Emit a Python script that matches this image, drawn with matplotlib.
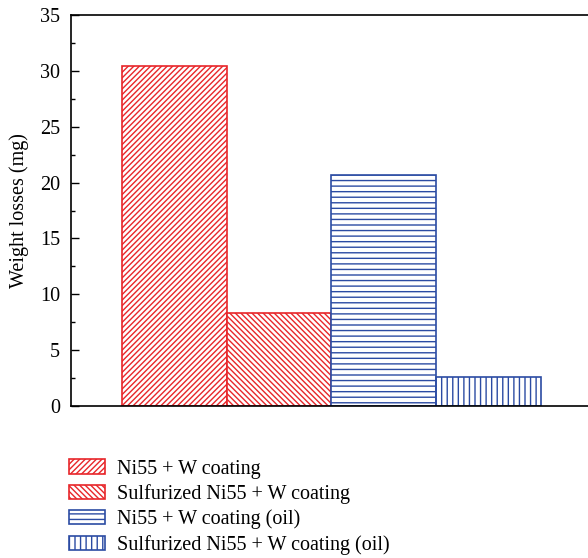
import matplotlib.pyplot as plt

plt.rcParams["font.family"] = ["Liberation Serif", "DejaVu Serif"]
plt.rcParams["hatch.linewidth"] = 1.0

labels = [
    "Ni55 + W coating",
    "Sulfurized Ni55 + W coating",
    "Ni55 + W coating (oil)",
    "Sulfurized Ni55 + W coating (oil)",
]
losses = [30.4, 8.3, 20.7, 2.6]
colors = ["#e8262a", "#e8262a", "#2b4ba3", "#2b4ba3"]
hatches = ["//////", "\\\\\\\\\\\\", "---", "|||"]

fig = plt.figure(figsize=(5.88, 5.58), dpi=100)
ax = fig.add_axes([0.1207, 0.2724, 0.886, 0.7007])

for i in range(len(losses)):
    ax.bar(i, losses[i], width=1.0, facecolor="white", edgecolor=colors[i],
           hatch=hatches[i], linewidth=1.2, label=labels[i])

ax.set_xlim(-0.987, 3.987)
ax.set_ylim(0, 35)
ax.set_yticks(range(0, 36, 5))
ax.set_yticks([2.5 + 5 * k for k in range(7)], minor=True)
ax.set_xticks([])
ax.tick_params(axis="y", direction="in", length=6, width=1, labelsize=14.5, pad=8)
ax.tick_params(axis="y", which="minor", direction="in", length=3, width=1)
ax.set_ylabel("Weight losses (mg)", fontsize=14.5, labelpad=8)
for s in ax.spines.values():
    s.set_linewidth(1.2)

fig.legend(loc="upper left", bbox_to_anchor=(0.103, 0.191), frameon=False,
           fontsize=14.5, handlelength=1.8, handleheight=0.7,
           labelspacing=0.28, handletextpad=0.6, borderaxespad=0)

fig.savefig("out.png", dpi=100)
